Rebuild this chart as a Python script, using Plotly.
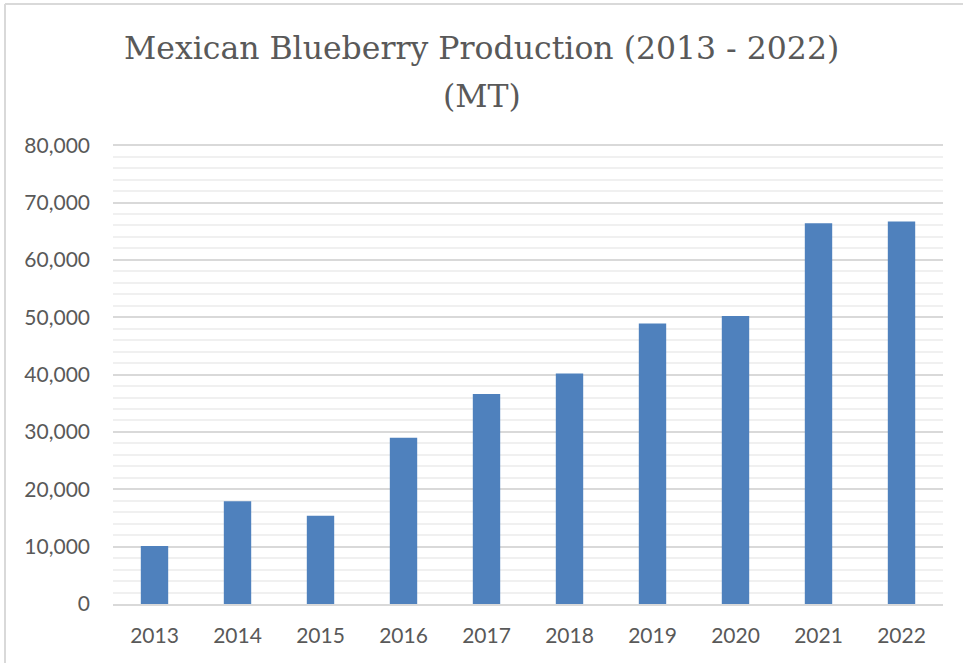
import plotly.graph_objects as go

# Annual Mexican blueberry production, metric tonnes
years = ["2013", "2014", "2015", "2016", "2017", "2018", "2019", "2020", "2021", "2022"]
production_mt = [10100, 17900, 15400, 29000, 36600, 40200, 48900, 50200, 66400, 66700]

y_tick_values = [0, 10000, 20000, 30000, 40000, 50000, 60000, 70000, 80000]
y_tick_labels = ["0", "10,000", "20,000", "30,000", "40,000", "50,000", "60,000", "70,000", "80,000"]

title_lines = ["Mexican Blueberry Production (2013 - 2022)", "(MT)"]

W, H = 963, 663
M_LEFT, M_RIGHT, M_TOP, M_BOTTOM = 113, 20, 144, 59
Y_MAX = 80200  # a little headroom so the 80,000 gridline is drawn

TEXT = "#595959"
BAR = "#4F81BD"

fig = go.Figure(
    go.Bar(
        x=years,
        y=production_mt,
        marker=dict(color=BAR, line=dict(width=0)),
        hoverinfo="x+y",
    )
)

plot_w = W - M_LEFT - M_RIGHT
plot_h = H - M_TOP - M_BOTTOM


def px_to_paper_x(px):
    return (px - M_LEFT) / plot_w


def px_to_paper_y(py):
    return (H - M_BOTTOM - py) / plot_h


# chart frame (left and top edges visible)
frame_x = px_to_paper_x(5)
frame_y = px_to_paper_y(4)
fig.add_shape(type="line", xref="paper", yref="paper",
              x0=frame_x, x1=frame_x, y0=-0.2, y1=frame_y,
              line=dict(color="#D9D9D9", width=2))
fig.add_shape(type="line", xref="paper", yref="paper",
              x0=frame_x, x1=1.2, y0=frame_y, y1=frame_y,
              line=dict(color="#D9D9D9", width=2))

# two-line chart title
title_font = dict(family="DejaVu Serif", size=31.5, color=TEXT)
for line_text, center_px in zip(title_lines, [48, 96]):
    fig.add_annotation(
        text=line_text,
        xref="paper", yref="paper",
        x=px_to_paper_x(W / 2), y=px_to_paper_y(center_px),
        xanchor="center", yanchor="middle",
        showarrow=False,
        font=title_font,
    )

fig.update_layout(
    width=W,
    height=H,
    margin=dict(l=M_LEFT, r=M_RIGHT, t=M_TOP, b=M_BOTTOM, pad=0),
    paper_bgcolor="white",
    plot_bgcolor="white",
    bargap=0.67,
    showlegend=False,
    font=dict(family="Lato", size=21, color=TEXT),
)

fig.update_xaxes(
    type="category",
    showgrid=False,
    showline=True,
    linecolor="#D9D9D9",
    linewidth=1.5,
    ticks="",
    ticklabelstandoff=12,
    tickfont=dict(family="Lato", size=21, color=TEXT),
)

fig.update_yaxes(
    range=[0, Y_MAX],
    tickmode="array",
    tickvals=y_tick_values,
    ticktext=y_tick_labels,
    showgrid=True,
    gridcolor="#D9D9D9",
    gridwidth=1.5,
    zeroline=False,
    showline=False,
    ticks="",
    ticklabelstandoff=22,
    tickfont=dict(family="Lato", size=21, color=TEXT),
    minor=dict(dtick=2000, showgrid=True, gridcolor="#F0F0F0", gridwidth=1.5),
)

fig.write_html("out.html")
